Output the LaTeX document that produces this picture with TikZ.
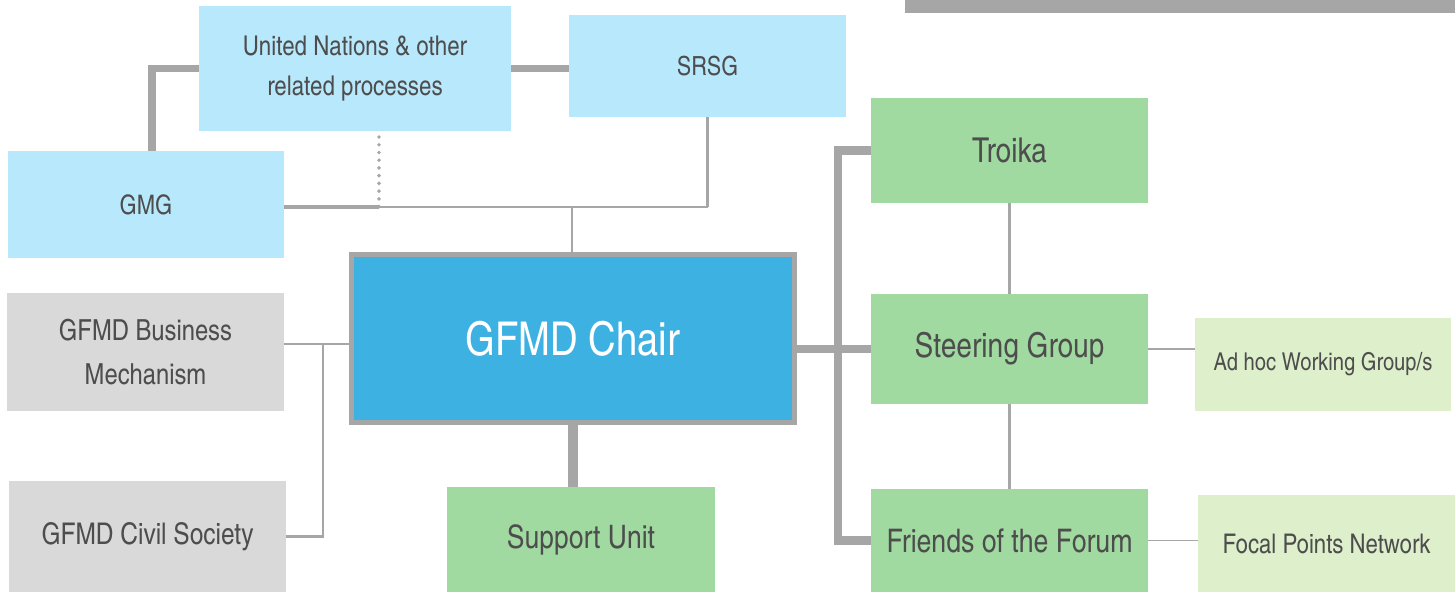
\documentclass[tikz,border=0pt]{standalone}
\usepackage{fontspec}
\setmainfont{TeX Gyre Heros Cn}
\definecolor{lightblue}{HTML}{B8E8FB}
\definecolor{chairblue}{HTML}{3DB2E2}
\definecolor{linegray}{HTML}{A6A6A6}
\definecolor{boxgray}{HTML}{D9D9D9}
\definecolor{boxgreen}{HTML}{A1DAA0}
\definecolor{palegreen}{HTML}{DDEFCB}
\definecolor{textgray}{HTML}{4D4D4D}

\begin{document}
\begin{tikzpicture}[x=0.02cm,y=-0.02cm]
      \useasboundingbox (0,0) rectangle (1455,592);
      \fill[linegray] (905,0) rectangle (1455,13);
      \begin{scope}[every node/.style={rectangle,inner sep=0pt,outer sep=0pt,align=center,
          text=textgray,font=\fontsize{16.5}{25}\selectfont,minimum width=5.54cm}]
        \node[fill=lightblue,minimum width=6.24cm,minimum height=2.5cm,
          font=\fontsize{15.5}{23}\selectfont] (un) at (355,68.5) {United Nations \& other\\related processes};
        \node[fill=lightblue,minimum height=2.04cm,font=\fontsize{15}{20}\selectfont] (srsg) at (707.5,66) {SRSG};
        \node[fill=lightblue,minimum width=5.52cm,minimum height=2.14cm,
          font=\fontsize{15.3}{20}\selectfont] (gmg) at (146,204.5) {GMG};
        \node[fill=chairblue,draw=linegray,line width=2.8pt,minimum width=8.86cm,minimum height=3.36cm,
          text=white,font=\fontsize{26.5}{30}\selectfont] (chair) at (573,338.5) {GFMD Chair};
        \node[fill=boxgray,minimum height=2.36cm] (gbm) at (145.5,352) {GFMD Business\\Mechanism};
        \node[fill=boxgray,minimum height=2.22cm,font=\fontsize{17}{20}\selectfont] (gcs) at (147.5,536.5) {GFMD Civil Society};
        \node[fill=boxgreen,minimum width=5.36cm,minimum height=2.1cm,
          font=\fontsize{18.4}{20}\selectfont] (su) at (581,539.5) {Support Unit};
        \node[fill=boxgreen,minimum height=2.1cm,font=\fontsize{19.5}{20}\selectfont] (troika) at (1009.5,150.5) {Troika};
        \node[fill=boxgreen,minimum height=2.2cm,font=\fontsize{19.5}{20}\selectfont] (sg) at (1009.5,349) {Steering Group};
        \node[fill=boxgreen,minimum height=2.06cm,font=\fontsize{18.5}{20}\selectfont] (fof) at (1009.5,540.5) {Friends of the Forum};
        \node[fill=palegreen,minimum width=5.12cm,minimum height=1.86cm,
          font=\fontsize{14}{20}\selectfont] (adhoc) at (1323,364.5) {Ad hoc Working Group/s};
        \node[fill=palegreen,minimum width=5.14cm,minimum height=1.94cm,
          font=\fontsize{15.4}{20}\selectfont] (fpn) at (1326.5,543.5) {Focal Points Network};
      \end{scope}
      \coordinate (hub) at (572,207);
      \coordinate (dots) at (379,207);
      \coordinate (left) at (323,344);
      \coordinate (bus) at (838,0);
      \begin{scope}[every edge/.style={draw,linegray}]
        \path[line width=4pt] (gmg.north -| 152,0) edge[to path={|- (\tikztotarget)}] (un.west);
        \path[line width=4pt] (un.east) edge (un.east -| srsg.west);
        \path[line width=2.2pt,line cap=round,dash pattern=on 0pt off 4.4pt] (un.south -| dots) ++(0,6) edge (dots);
        \path[line width=2.3pt] (gmg.east |- hub) edge (dots);
        \path[line width=1.6pt] (dots) edge (srsg.south |- hub);
        \path[line width=1.6pt] (srsg.south |- hub) edge (srsg.south);
        \path[line width=1.6pt] (hub) edge (hub |- chair.north);
        \path[line width=5.5pt] (chair.south) edge (chair.south |- su.north);
        \path[line width=1.6pt] (gbm.east |- left) edge (chair.west |- left);
        \path[line width=1.6pt] (left) edge[to path={|- (\tikztotarget)}] (gcs.east);
        \path[line width=5pt] (sg.west) edge (sg.west -| chair.east);
        \path[line width=5pt] (troika.west) edge[to path={-| (bus |- \tikztotarget) -- (\tikztotarget)}] (fof.west);
        \path[line width=1.6pt] (troika.south) edge (sg.north);
        \path[line width=1.6pt] (sg.south) edge (fof.north);
        \path[line width=0.6pt] (sg.east) edge (sg.east -| adhoc.west);
        \path[line width=0.6pt] (fof.east) edge (fof.east -| fpn.west);
      \end{scope}
    \end{tikzpicture}
\end{document}
